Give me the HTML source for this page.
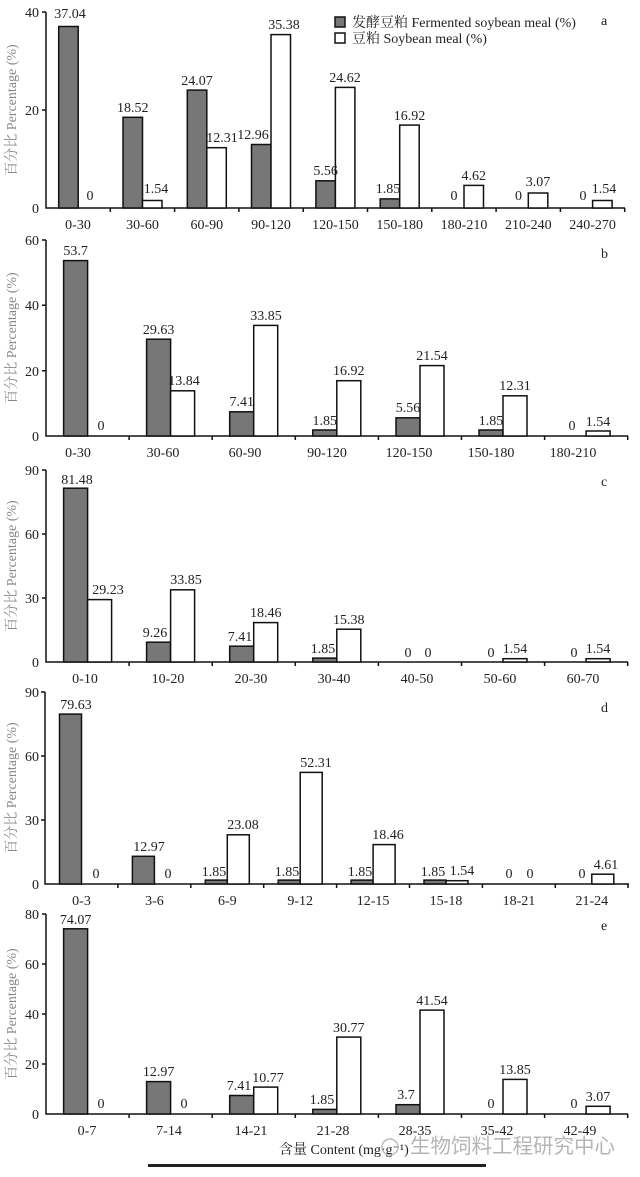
<!DOCTYPE html>
<html><head><meta charset="utf-8"><style>
html,body{margin:0;padding:0;background:#fff;}
svg{display:block;}
text{font-family:"Liberation Serif","Noto Serif CJK SC",serif;font-size:14px;fill:#222;}
.g{fill:#777;stroke:#111;stroke-width:1.5;}
.w{fill:#fff;stroke:#111;stroke-width:1.5;}
.ax{stroke:#111;stroke-width:1.5;fill:none;}
.m{text-anchor:middle;}
.e{text-anchor:end;}
.yt{fill:#888;font-size:14px;text-anchor:middle;}
</style></head><body>
<svg width="640" height="1177" viewBox="0 0 640 1177" xmlns="http://www.w3.org/2000/svg">
<!-- Panel a -->
<path class="ax" d="M46 12V208H625 M42 12H46 M42 110H46 M110.3 208v4 M174.6 208v4 M238.9 208v4 M303.2 208v4 M367.5 208v4 M431.8 208v4 M496.1 208v4 M560.4 208v4 M624.7 208v4"/>
<text class="e" x="39" y="17">40</text><text class="e" x="39" y="115">20</text><text class="e" x="39" y="213">0</text>
<text class="yt" transform="translate(16,110) rotate(-90)">百分比 Percentage (%)</text>
<rect class="g" x="58.7" y="26.5" width="19.5" height="181.5"/>
<rect class="g" x="123" y="117.3" width="19.5" height="90.7"/>
<rect class="g" x="187.3" y="90.1" width="19.5" height="117.9"/>
<rect class="g" x="251.5" y="144.5" width="19.5" height="63.5"/>
<rect class="g" x="315.9" y="180.8" width="19.5" height="27.2"/>
<rect class="g" x="380.2" y="198.9" width="19.5" height="9.1"/>
<rect class="w" x="142.5" y="200.5" width="19.5" height="7.5"/>
<rect class="w" x="206.8" y="147.7" width="19.5" height="60.3"/>
<rect class="w" x="271" y="34.6" width="19.5" height="173.4"/>
<rect class="w" x="335.4" y="87.4" width="19.5" height="120.6"/>
<rect class="w" x="399.7" y="125.1" width="19.5" height="82.9"/>
<rect class="w" x="464" y="185.4" width="19.5" height="22.6"/>
<rect class="w" x="528.3" y="193" width="19.5" height="15"/>
<rect class="w" x="592.6" y="200.5" width="19.5" height="7.5"/>
<text class="m" x="70" y="18">37.04</text><text class="m" x="132.7" y="112">18.52</text><text class="m" x="197" y="85">24.07</text><text class="m" x="253" y="139">12.96</text><text class="m" x="325.6" y="175">5.56</text><text class="m" x="388" y="193">1.85</text>
<text class="m" x="454" y="200">0</text><text class="m" x="518.5" y="200">0</text><text class="m" x="583" y="200">0</text>
<text class="m" x="90" y="200">0</text><text class="m" x="156" y="193">1.54</text><text class="m" x="222" y="142">12.31</text><text class="m" x="284" y="29">35.38</text><text class="m" x="345" y="82">24.62</text><text class="m" x="409.5" y="120">16.92</text><text class="m" x="473.7" y="180">4.62</text><text class="m" x="538" y="186">3.07</text><text class="m" x="604" y="193">1.54</text>
<text class="m" x="78" y="229">0-30</text><text class="m" x="142.5" y="229">30-60</text><text class="m" x="206.8" y="229">60-90</text><text class="m" x="271" y="229">90-120</text><text class="m" x="335.4" y="229">120-150</text><text class="m" x="399.7" y="229">150-180</text><text class="m" x="464" y="229">180-210</text><text class="m" x="528.3" y="229">210-240</text><text class="m" x="592.6" y="229">240-270</text>
<rect class="g" x="335" y="17" width="10" height="10"/><text x="352" y="27">发酵豆粕 Fermented soybean meal (%)</text>
<rect class="w" x="335" y="33" width="10" height="10"/><text x="352" y="43">豆粕 Soybean meal (%)</text>
<text x="601" y="25">a</text>

<!-- Panel b -->
<path class="ax" d="M46 240V436H628 M42 240H46 M42 305.3H46 M42 370.7H46 M129.1 436v4 M212.2 436v4 M295.3 436v4 M378.4 436v4 M461.5 436v4 M544.6 436v4 M627.7 436v4"/>
<text class="e" x="39" y="245">60</text><text class="e" x="39" y="310">40</text><text class="e" x="39" y="376">20</text><text class="e" x="39" y="441">0</text>
<text class="yt" transform="translate(16,338) rotate(-90)">百分比 Percentage (%)</text>
<rect class="g" x="63.6" y="260.6" width="24" height="175.4"/>
<rect class="g" x="146.6" y="339.2" width="24" height="96.8"/>
<rect class="g" x="229.7" y="411.8" width="24" height="24.2"/>
<rect class="g" x="312.8" y="430" width="24" height="6"/>
<rect class="g" x="396" y="417.8" width="24" height="18.2"/>
<rect class="g" x="479" y="430" width="24" height="6"/>
<rect class="w" x="170.6" y="390.8" width="24" height="45.2"/>
<rect class="w" x="253.7" y="325.4" width="24" height="110.6"/>
<rect class="w" x="336.8" y="380.7" width="24" height="55.3"/>
<rect class="w" x="420" y="365.6" width="24" height="70.4"/>
<rect class="w" x="503" y="395.8" width="24" height="40.2"/>
<rect class="w" x="586.1" y="431" width="24" height="5"/>
<text class="m" x="75.6" y="255">53.7</text><text class="m" x="158.6" y="334">29.63</text><text class="m" x="241.7" y="406">7.41</text><text class="m" x="324.8" y="425">1.85</text><text class="m" x="408" y="412">5.56</text><text class="m" x="491" y="425">1.85</text><text class="m" x="572" y="430">0</text>
<text class="m" x="101" y="430">0</text><text class="m" x="184" y="385">13.84</text><text class="m" x="266" y="320">33.85</text><text class="m" x="348.8" y="375">16.92</text><text class="m" x="432" y="360">21.54</text><text class="m" x="515" y="390">12.31</text><text class="m" x="598" y="426">1.54</text>
<text class="m" x="78" y="457">0-30</text><text class="m" x="163" y="457">30-60</text><text class="m" x="245" y="457">60-90</text><text class="m" x="327" y="457">90-120</text><text class="m" x="409" y="457">120-150</text><text class="m" x="491" y="457">150-180</text><text class="m" x="573" y="457">180-210</text>
<text x="601" y="258">b</text>

<!-- Panel c -->
<path class="ax" d="M46 470V662H628 M42 470H46 M42 534H46 M42 598H46 M129.1 662v4 M212.2 662v4 M295.3 662v4 M378.4 662v4 M461.5 662v4 M544.6 662v4 M627.7 662v4"/>
<text class="e" x="39" y="475">90</text><text class="e" x="39" y="539">60</text><text class="e" x="39" y="603">30</text><text class="e" x="39" y="667">0</text>
<text class="yt" transform="translate(16,566) rotate(-90)">百分比 Percentage (%)</text>
<rect class="g" x="63.6" y="488.2" width="24" height="173.8"/>
<rect class="g" x="146.6" y="642.2" width="24" height="19.8"/>
<rect class="g" x="229.7" y="646.2" width="24" height="15.8"/>
<rect class="g" x="312.8" y="658.1" width="24" height="3.9"/>
<rect class="w" x="87.6" y="599.6" width="24" height="62.4"/>
<rect class="w" x="170.6" y="589.8" width="24" height="72.2"/>
<rect class="w" x="253.7" y="622.6" width="24" height="39.4"/>
<rect class="w" x="336.8" y="629.2" width="24" height="32.8"/>
<rect class="w" x="503" y="658.7" width="24" height="3.3"/>
<rect class="w" x="586.1" y="658.7" width="24" height="3.3"/>
<text class="m" x="77" y="484">81.48</text><text class="m" x="155" y="637">9.26</text><text class="m" x="240" y="641">7.41</text><text class="m" x="323" y="653">1.85</text><text class="m" x="408" y="657">0</text><text class="m" x="491" y="657">0</text><text class="m" x="574" y="657">0</text>
<text class="m" x="108" y="594">29.23</text><text class="m" x="186" y="584">33.85</text><text class="m" x="265.7" y="617">18.46</text><text class="m" x="348.8" y="624">15.38</text><text class="m" x="428" y="657">0</text><text class="m" x="515" y="653">1.54</text><text class="m" x="598" y="653">1.54</text>
<text class="m" x="85" y="683">0-10</text><text class="m" x="168" y="683">10-20</text><text class="m" x="251" y="683">20-30</text><text class="m" x="334" y="683">30-40</text><text class="m" x="417" y="683">40-50</text><text class="m" x="500" y="683">50-60</text><text class="m" x="583" y="683">60-70</text>
<text x="601" y="486">c</text>

<!-- Panel d -->
<path class="ax" d="M45 692V884H629 M41 692H45 M41 756H45 M41 820H45 M117.9 884v4 M190.8 884v4 M263.7 884v4 M336.6 884v4 M409.5 884v4 M482.4 884v4 M555.3 884v4 M628 884v4"/>
<text class="e" x="39" y="697">90</text><text class="e" x="39" y="761">60</text><text class="e" x="39" y="825">30</text><text class="e" x="39" y="889">0</text>
<text class="yt" transform="translate(16,788) rotate(-90)">百分比 Percentage (%)</text>
<rect class="g" x="59.5" y="714.1" width="22" height="169.9"/>
<rect class="g" x="132.4" y="856.3" width="22" height="27.7"/>
<rect class="g" x="205.3" y="880.1" width="22" height="3.9"/>
<rect class="g" x="278.2" y="880.1" width="22" height="3.9"/>
<rect class="g" x="351.1" y="880.1" width="22" height="3.9"/>
<rect class="g" x="424" y="880.1" width="22" height="3.9"/>
<rect class="w" x="227.3" y="834.8" width="22" height="49.2"/>
<rect class="w" x="300.2" y="772.4" width="22" height="111.6"/>
<rect class="w" x="373.1" y="844.6" width="22" height="39.4"/>
<rect class="w" x="446" y="880.7" width="22" height="3.3"/>
<rect class="w" x="591.8" y="874.2" width="22" height="9.8"/>
<text class="m" x="76" y="709">79.63</text><text class="m" x="149" y="851">12.97</text><text class="m" x="214" y="876">1.85</text><text class="m" x="287" y="876">1.85</text><text class="m" x="360" y="876">1.85</text><text class="m" x="433" y="876">1.85</text><text class="m" x="509" y="878">0</text><text class="m" x="582" y="878">0</text>
<text class="m" x="96" y="878">0</text><text class="m" x="168" y="878">0</text><text class="m" x="243" y="829">23.08</text><text class="m" x="316" y="767">52.31</text><text class="m" x="388" y="839">18.46</text><text class="m" x="462" y="875">1.54</text><text class="m" x="530" y="878">0</text><text class="m" x="606" y="869">4.61</text>
<text class="m" x="81.5" y="905">0-3</text><text class="m" x="154.4" y="905">3-6</text><text class="m" x="227.3" y="905">6-9</text><text class="m" x="300.2" y="905">9-12</text><text class="m" x="373.1" y="905">12-15</text><text class="m" x="446" y="905">15-18</text><text class="m" x="518.9" y="905">18-21</text><text class="m" x="591.8" y="905">21-24</text>
<text x="601" y="712">d</text>

<!-- Panel e -->
<path class="ax" d="M46 914V1114H628 M42 914H46 M42 964H46 M42 1014H46 M42 1064H46 M129.1 1114v4 M212.2 1114v4 M295.3 1114v4 M378.4 1114v4 M461.5 1114v4 M544.6 1114v4 M627.7 1114v4"/>
<text class="e" x="39" y="919">80</text><text class="e" x="39" y="969">60</text><text class="e" x="39" y="1019">40</text><text class="e" x="39" y="1069">20</text><text class="e" x="39" y="1119">0</text>
<text class="yt" transform="translate(16,1014) rotate(-90)">百分比 Percentage (%)</text>
<rect class="g" x="63.6" y="928.8" width="24" height="185.2"/>
<rect class="g" x="146.6" y="1081.6" width="24" height="32.4"/>
<rect class="g" x="229.7" y="1095.5" width="24" height="18.5"/>
<rect class="g" x="312.8" y="1109.4" width="24" height="4.6"/>
<rect class="g" x="396" y="1104.7" width="24" height="9.3"/>
<rect class="w" x="253.7" y="1087.1" width="24" height="26.9"/>
<rect class="w" x="336.8" y="1037.1" width="24" height="76.9"/>
<rect class="w" x="420" y="1010.1" width="24" height="103.9"/>
<rect class="w" x="503" y="1079.4" width="24" height="34.6"/>
<rect class="w" x="586.1" y="1106.3" width="24" height="7.7"/>
<text class="m" x="75.6" y="924">74.07</text><text class="m" x="158.6" y="1076">12.97</text><text class="m" x="239" y="1090">7.41</text><text class="m" x="322" y="1104">1.85</text><text class="m" x="406" y="1099">3.7</text><text class="m" x="491" y="1108">0</text><text class="m" x="574" y="1108">0</text>
<text class="m" x="101" y="1108">0</text><text class="m" x="184" y="1108">0</text><text class="m" x="268" y="1082">10.77</text><text class="m" x="348.8" y="1032">30.77</text><text class="m" x="432" y="1005">41.54</text><text class="m" x="515" y="1074">13.85</text><text class="m" x="598" y="1101">3.07</text>
<text class="m" x="87" y="1135">0-7</text><text class="m" x="169" y="1135">7-14</text><text class="m" x="251" y="1135">14-21</text><text class="m" x="333" y="1135">21-28</text><text class="m" x="415" y="1135">28-35</text><text class="m" x="497" y="1135">35-42</text><text class="m" x="580" y="1135">42-49</text>
<text x="601" y="930">e</text>

<!-- footer -->
<text x="279" y="1154">含量 Content (mg·g⁻¹)</text>
<circle cx="390" cy="1147" r="8" fill="none" stroke="#bbb" stroke-width="1.5"/>
<text x="410" y="1153" style="font-family:'Liberation Sans','Noto Sans CJK SC',sans-serif;font-size:20.5px;fill:#b5b5b5;">生物饲料工程研究中心</text>
<rect x="148" y="1164" width="338" height="3" fill="#222"/>
</svg>
</body></html>
